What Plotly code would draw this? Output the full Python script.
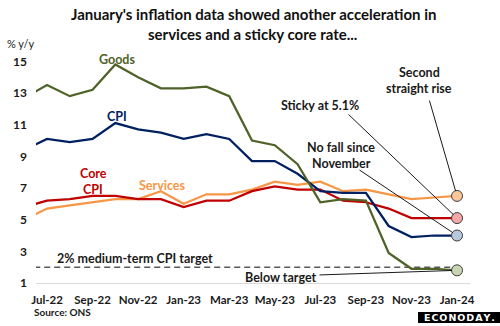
import plotly.graph_objects as go

# ---------------- data ----------------
months = ["Jun-22", "Jul-22", "Aug-22", "Sep-22", "Oct-22", "Nov-22", "Dec-22",
          "Jan-23", "Feb-23", "Mar-23", "Apr-23", "May-23", "Jun-23", "Jul-23",
          "Aug-23", "Sep-23", "Oct-23", "Nov-23", "Dec-23", "Jan-24"]
goods = [12.7, 13.5, 12.8, 13.2, 14.8, 14.0, 13.3, 13.3, 13.4, 12.8, 10.0, 9.7,
         8.5, 6.1, 6.3, 6.2, 2.9, 1.9, 1.9, 1.8]
cpi = [9.4, 10.1, 9.9, 10.1, 11.1, 10.7, 10.5, 10.1, 10.4, 10.1, 8.7, 8.7,
       7.9, 6.8, 6.7, 6.7, 4.6, 3.9, 4.0, 4.0]
core = [5.8, 6.2, 6.3, 6.5, 6.5, 6.3, 6.3, 5.8, 6.2, 6.2, 6.8, 7.1,
        6.9, 6.9, 6.2, 6.1, 5.7, 5.1, 5.1, 5.1]
services = [5.0, 5.7, 5.9, 6.1, 6.3, 6.3, 6.8, 6.0, 6.6, 6.6, 6.9, 7.4,
            7.2, 7.4, 6.8, 6.9, 6.6, 6.3, 6.4, 6.5]
target = [2.0] * len(months)
tick_labels = ["Jul-22", "Sep-22", "Nov-22", "Jan-23", "Mar-23", "May-23",
               "Jul-23", "Sep-23", "Nov-23", "Jan-24"]
y_ticks = [1, 3, 5, 7, 9, 11, 13, 15]

# ---------------- styling ----------------
FONT = "Lato"
C_GOODS = "#4F6228"
C_CPI = "#002060"
C_CORE = "#C00000"
C_SERV = "#F79646"

xi = list(range(len(months)))
tick_pos = [months.index(t) for t in tick_labels]

W, H = 500, 326
ML, MR, MT, MB = 36, 30, 55, 43
PW, PH = W - ML - MR, H - MT - MB


def px(x):
    return (x - ML) / PW


def py(y):
    return (H - MB - y) / PH


fig = go.Figure()

fig.add_trace(go.Scatter(x=xi, y=target, mode="lines",
                         line=dict(color="#595959", width=1.5, dash="6px,4px"),
                         hoverinfo="skip"))

series = [
    ("Services", services, C_SERV, "#FBC79A"),
    ("Core CPI", core, C_CORE, "#F4A9A8"),
    ("CPI", cpi, C_CPI, "#B9C7DD"),
    ("Goods", goods, C_GOODS, "#C7D5B5"),
]
for name, vals, col, fill in series:
    fig.add_trace(go.Scatter(x=xi, y=vals, mode="lines", name=name,
                             line=dict(color=col, width=2.25)))
for name, vals, col, fill in series:
    fig.add_trace(go.Scatter(x=[xi[-1]], y=[vals[-1]], mode="markers",
                             marker=dict(size=11, color=fill,
                                         line=dict(color="#3F3F3F", width=1)),
                             cliponaxis=False))

ann = []


def label(text, x, y, color="#1a1a1a", size=12.5):
    ann.append(dict(text=text, x=px(x), y=py(y), xref="paper", yref="paper",
                    showarrow=False, xanchor="center", yanchor="middle",
                    font=dict(family=FONT, size=size, color=color, weight="bold")))


label("Goods", 117, 59, C_GOODS)
label("CPI", 117, 116, C_CPI)
label("Core", 93, 173, C_CORE)
label("CPI", 93, 189, C_CORE)
label("Services", 162, 185, C_SERV)
label("Second", 419, 72)
label("straight rise", 419, 88)
label("Sticky at 5.1%", 320, 105)
label("No fall since", 341, 147)
label("November", 341, 163)
label("2% medium-term CPI target", 135, 258)
label("Below target", 280, 277)


def leader(xd, yd, tx, ty):
    # tail in pixels converted to data units
    ax = 0.517 + (tx - 36) / 22.78
    ay = 1 + (283 - ty) / 15.83
    ann.append(dict(x=xd, y=yd, xref="x", yref="y", ax=ax, ay=ay,
                    axref="x", ayref="y", showarrow=True, arrowhead=0,
                    arrowwidth=1, arrowcolor="#1a1a1a", standoff=5, text=""))


leader(xi[-1], services[-1], 429, 99)
leader(xi[-1], core[-1], 347, 113)
leader(xi[-1], cpi[-1], 358, 169)
leader(xi[-1], goods[-1], 318, 275)

# % y/y label
ann.append(dict(text="% y/y", x=px(5), y=py(43), xref="paper", yref="paper",
                showarrow=False, xanchor="left", yanchor="middle",
                font=dict(family=FONT, size=11, color="#1a1a1a")))
# source
ann.append(dict(text="Source: ONS", x=px(32), y=py(312), xref="paper", yref="paper",
                showarrow=False, xanchor="left", yanchor="middle",
                font=dict(family=FONT, size=10, color="#1a1a1a", weight="bold")))
# title
ann.append(dict(text="January's inflation data showed another acceleration in",
                x=px(253), y=py(14), xref="paper", yref="paper",
                showarrow=False, xanchor="center", yanchor="middle",
                font=dict(family=FONT, size=15, color="#111111", weight="bold")))
ann.append(dict(text="services and a sticky core rate...",
                x=px(252), y=py(34), xref="paper", yref="paper",
                showarrow=False, xanchor="center", yanchor="middle",
                font=dict(family=FONT, size=15, color="#111111", weight="bold")))
# logo
ann.append(dict(text="E\u200aC\u200aO\u200aN\u200aO\u200aD\u200aA\u200aY\u200a.",
                x=px(459), y=py(317.5), xref="paper", yref="paper",
                showarrow=False, xanchor="center", yanchor="middle",
                font=dict(family="DejaVu Sans", size=9.5, color="white", weight="bold")))

fig.update_layout(
    width=W, height=H,
    margin=dict(l=ML, r=MR, t=MT, b=MB),
    paper_bgcolor="white", plot_bgcolor="white",
    showlegend=False,
    annotations=ann,
    shapes=[dict(type="rect", xref="paper", yref="paper",
                 x0=px(418), x1=px(500), y0=py(323), y1=py(312),
                 fillcolor="black", line=dict(width=0), layer="below")],
    xaxis=dict(range=[0.517, 19.57], tickmode="array", tickvals=tick_pos,
               ticktext=tick_labels, showgrid=False, zeroline=False,
               showline=True, linecolor="#D9D9D9", linewidth=1,
               ticks="", ticklabelstandoff=6,
               tickfont=dict(family=FONT, size=11.5, color="#1a1a1a", weight="bold")),
    yaxis=dict(range=[1, 15.4], tickmode="array", tickvals=y_ticks,
               showgrid=False, zeroline=False, showline=False, ticks="",
               ticklabelstandoff=8,
               tickfont=dict(family=FONT, size=12, color="#1a1a1a", weight="bold")),
)

fig.write_html("out.html")
